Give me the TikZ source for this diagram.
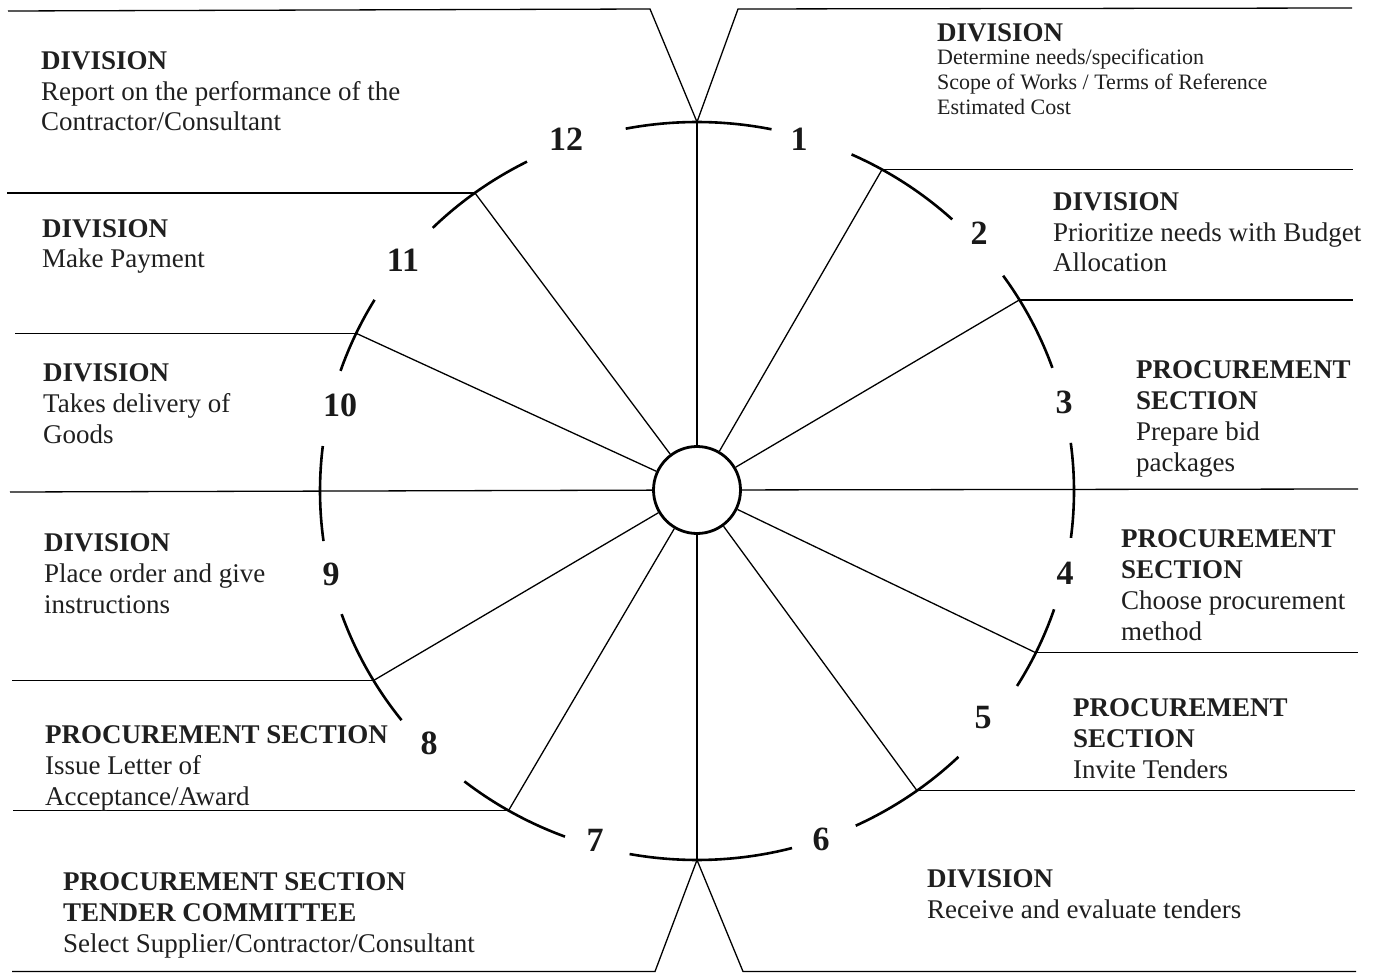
\documentclass[tikz,border=0pt]{standalone}
\usepackage{fontspec}
\setmainfont{Liberation Serif}
\begin{document}
\begin{tikzpicture}[x=1pt,y=1pt,
  ring/.style={line width=2.6pt},
  spoke/.style={line width=1.3pt},
  rule/.style={line width=1.3pt},
  num/.style={font=\fontsize{34}{40}\selectfont\bfseries, inner sep=0pt, text=black!90},
  % anchored on the baseline of the last line of each block
  blk/.style={anchor=base west, align=left, inner sep=0pt, text=black!88,
              font=\fontsize{27}{30.8}\selectfont},
  small/.style={font=\fontsize{22}{25}\selectfont}]
\useasboundingbox (0,0) rectangle (1380,-973);

% centre of the dial (ring radii 377 x 369)
\coordinate (C) at (697,-491);

% hub
\node[draw, circle, minimum size=87pt, inner sep=0pt, line width=2.8pt] (hub) at (697,-490) {};

% points where the spokes meet the ring
\path (C) ++(90:377 and 369)    coordinate (b121);
\path (C) ++(60.6:377 and 369)  coordinate (b12);
\path (C) ++(31.2:377 and 369)  coordinate (b23);
\path (C) ++(-26:377 and 369)   coordinate (b45);
\path (C) ++(-54.3:377 and 369) coordinate (b56);
\path (C) ++(-90:377 and 369)   coordinate (b67);
\path (C) ++(240:377 and 369)   coordinate (b78);
\path (C) ++(210.9:377 and 369) coordinate (b89);
\path (C) ++(154.7:377 and 369) coordinate (b1011);
\path (C) ++(126.1:377 and 369) coordinate (b1112);

% outer ends of the rules
\coordinate (tvl) at (650,-9);   \coordinate (tvr) at (738,-9);
\coordinate (tl)  at (8,-11);    \coordinate (tr)  at (1352,-8);
\coordinate (bvl) at (655,-971.5); \coordinate (bvr) at (743,-971.5);
\coordinate (bl)  at (12,-971.5);  \coordinate (br)  at (1356,-971.5);
\coordinate (e3)  at (1358,-489);  \coordinate (e9)  at (10,-492);
\coordinate (e12) at (1353,0);   \coordinate (e23) at (1353,0);
\coordinate (e45) at (1358,0);   \coordinate (e56) at (1355,0);
\coordinate (e78) at (13,0);     \coordinate (e89) at (12,0);
\coordinate (e1011) at (15,0);   \coordinate (e1112) at (7,0);

% spokes
\foreach \b in {b121,b12,b23,b45,b56,b67,b78,b89,b1011,b1112}
  \draw[spoke] (hub) -- (\b);
\draw[spoke] (hub) -- (e3);
\draw[spoke] (hub) -- (e9);

% rules separating the stages
\draw[rule] (tl) -- (tvl) -- (b121) -- (tvr) -- (tr);
\draw[rule] (bl) -- (bvl) -- (b67) -- (bvr) -- (br);
\draw[rule] (b12) -- (b12 -| e12);
\draw[rule] (b23) -- (b23 -| e23);
\draw[rule] (b45) -- (b45 -| e45);
\draw[rule] (b56) -- (b56 -| e56);
\draw[rule] (b78) -- (b78 -| e78);
\draw[rule] (b89) -- (b89 -| e89);
\draw[rule] (b1011) -- (b1011 -| e1011);
\draw[rule] (b1112) -- (b1112 -| e1112);

% ring segments between the numbers
\foreach \s/\e in {78.6/100.9, 47.4/65.8, 19.5/35.7, -7.3/7.5, -31.9/-18.7,
                   -65.1/-46.1, -100.3/-75.4, 231.9/249.5, 199.5/218.4,
                   173/187.8, 148.8/161, 116.8/134.5}
  \draw[ring] (C) ++(\s:377 and 369) arc[start angle=\s, end angle=\e, x radius=377, y radius=369];

% stage numbers
\node[num] (n1)  at (799,-139) {1};
\node[num] (n2)  at (979,-233) {2};
\node[num] (n3)  at (1064,-402) {3};
\node[num] (n4)  at (1065,-573) {4};
\node[num] (n5)  at (983,-718) {5};
\node[num] (n6)  at (821,-839) {6};
\node[num] (n7)  at (595,-840) {7};
\node[num] (n8)  at (429,-743) {8};
\node[num] (n9)  at (331,-574) {9};
\node[num] (n10) at (340,-405) {10};
\node[num] (n11) at (403,-260) {11};
\node[num] (n12) at (566,-139) {12};

% stage descriptions
\node[blk, small] (t1) at (937,-115)
  {{\fontsize{27}{25}\selectfont\bfseries DIVISION}\\[-2pt]
   Determine needs/specification\\ Scope of Works / Terms of Reference\\ Estimated Cost};
\node[blk] (t2) at (1053,-272)
  {\textbf{DIVISION}\\ Prioritize needs with Budget\\ Allocation};
\node[blk] (t3) at (1136,-471)
  {\textbf{PROCUREMENT}\\ \textbf{SECTION}\\ Prepare bid\\ packages};
\node[blk] (t4) at (1121,-640)
  {\textbf{PROCUREMENT}\\ \textbf{SECTION}\\ Choose procurement\\ method};
\node[blk] (t5) at (1073,-778)
  {\textbf{PROCUREMENT}\\ \textbf{SECTION}\\ Invite Tenders};
\node[blk] (t6) at (927,-918)
  {\textbf{DIVISION}\\ Receive and evaluate tenders};
\node[blk] (t7) at (63,-952)
  {\textbf{PROCUREMENT SECTION}\\ \textbf{TENDER COMMITTEE}\\ Select Supplier/Contractor/Consultant};
\node[blk] (t8) at (45,-805)
  {\textbf{PROCUREMENT SECTION}\\ Issue Letter of\\ Acceptance/Award};
\node[blk] (t9) at (44,-613)
  {\textbf{DIVISION}\\ Place order and give\\ instructions};
\node[blk] (t10) at (43,-443)
  {\textbf{DIVISION}\\ Takes delivery of\\ Goods};
\node[blk] (t11) at (42,-268)
  {\textbf{DIVISION}\\ Make Payment};
\node[blk] (t12) at (41,-131)
  {\textbf{DIVISION}\\ Report on the performance of the\\ Contractor/Consultant};
\end{tikzpicture}
\end{document}
